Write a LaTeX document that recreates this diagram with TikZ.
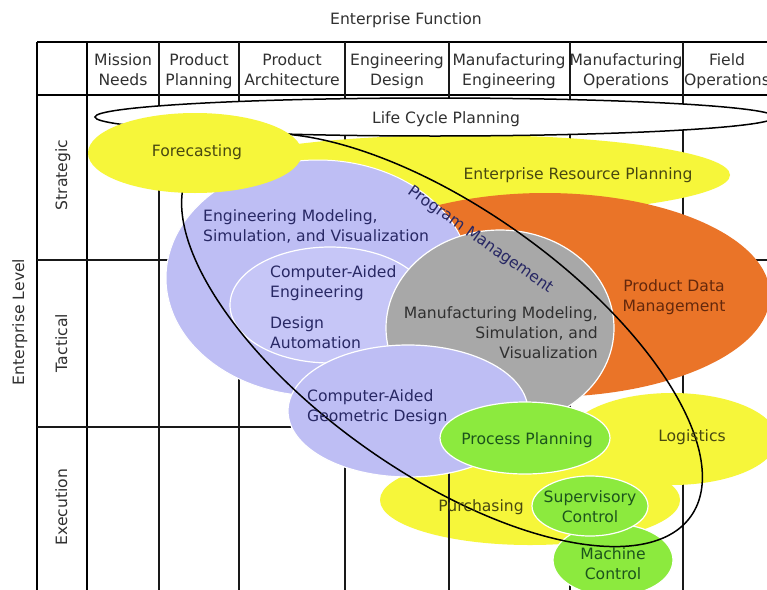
\documentclass[tikz,border=0pt]{standalone}
\usepackage{fontspec}
\setmainfont{DejaVu Sans}
\definecolor{yel}{RGB}{246,246,58}
\definecolor{peri}{RGB}{190,190,244}
\definecolor{peril}{RGB}{198,198,247}
\definecolor{graybub}{RGB}{168,168,168}
\definecolor{orng}{RGB}{234,116,40}
\definecolor{grn}{RGB}{140,234,62}
\definecolor{txtdark}{RGB}{48,48,48}
\definecolor{txtolive}{RGB}{72,72,16}
\definecolor{txtnavy}{RGB}{40,40,100}
\definecolor{txtbrown}{RGB}{100,40,12}
\definecolor{txtgreen}{RGB}{28,84,28}
\begin{document}
\begin{tikzpicture}[x=1pt,y=-1pt,
  every node/.style={font=\fontsize{15.6}{20}\selectfont, inner sep=0pt,
    text height=11pt, text depth=3pt, align=center, text=txtdark},
  twolines/.style={text height=31pt},
  threelines/.style={text height=51pt},
  gridouter/.style={line width=2.3pt, black},
  gridinner/.style={line width=1.8pt, black!90},
  bubble/.style={draw=white, line width=1.2pt},
  olive/.style={text=txtolive},
  navy/.style={text=txtnavy},
  brown/.style={text=txtbrown},
  greentext/.style={text=txtgreen}]
\clip (0,0) rectangle (767,589);
\fill[white] (0,0) rectangle (767,589);

% ---- table grid ----
\draw[gridouter] (37,42) -- (780,42);
\draw[gridouter] (37,95) -- (780,95);
\draw[gridouter] (37,42) -- (37,600);
\draw[gridouter] (87,42) -- (87,600);
\foreach \cx in {159,239,345,449,570,683}
  \draw[gridinner] (\cx,42) -- (\cx,600);
\draw[gridinner] (37,260) -- (780,260);
\draw[gridinner] (37,427) -- (780,427);

% ---- areas ----
\fill[yel] (465,175) ellipse [x radius=265, y radius=40];
\filldraw[fill=white, draw=black, line width=1.5pt] (435,117) ellipse [x radius=340, y radius=19];
\fill[orng] (545,295) ellipse [x radius=225, y radius=102];
\filldraw[fill=peri, draw=white, line width=1pt] (318,278) ellipse [x radius=152, y radius=118];
\filldraw[bubble, fill=peril] (330,305) ellipse [x radius=100, y radius=58];
\filldraw[bubble, fill=graybub] (500,328) ellipse [x radius=114, y radius=98];
\fill[yel] (530,500) ellipse [x radius=150, y radius=45];
\draw[gridinner] (449,470) -- (449,600);
\fill[yel] (672,439) ellipse [x radius=105, y radius=46];
\filldraw[bubble, fill=peri] (408,411) ellipse [x radius=120, y radius=66];
\filldraw[bubble, fill=grn] (525,438) ellipse [x radius=85, y radius=36];
\filldraw[bubble, fill=grn] (613,560) ellipse [x radius=60, y radius=36];
\filldraw[bubble, fill=grn] (590,506) ellipse [x radius=58, y radius=30];

% program management outline
\draw[black, line width=1.5pt, rotate around={-35.3:(442,340)}]
  (442,340) ellipse [x radius=305, y radius=132];

\fill[yel] (195,153) ellipse [x radius=107, y radius=40];

% ---- headings ----
\node (fn) at (406,20) {Enterprise Function};
\node[rotate=90] (lvl) at (20,322) {Enterprise Level};
\node[twolines] (h1) at (123,71) {Mission\\Needs};
\node[twolines] (h2) at (199,71) {Product\\Planning};
\node[twolines] (h3) at (292,71) {Product\\Architecture};
\node[twolines] (h4) at (397,71) {Engineering\\Design};
\node[twolines] (h5) at (509,71) {Manufacturing\\Engineering};
\node[twolines] (h6) at (626,71) {Manufacturing\\Operations};
\node[twolines] (h7) at (727,71) {Field\\Operations};
\node[rotate=90] (r1) at (63,175) {Strategic};
\node[rotate=90] (r2) at (63,343) {Tactical};
\node[rotate=90] (r3) at (63,507) {Execution};

% ---- area labels ----
\node (lcp) at (446,119) {Life Cycle Planning};
\node[olive] (fc) at (197,152) {Forecasting};
\node[olive] (erp) at (578,175) {Enterprise Resource Planning};
\node[navy, twolines, anchor=west, align=left] (ems) at (203,227) {Engineering Modeling,\\Simulation, and Visualization};
\node[navy, rotate=-35.2] (pm) at (480,240) {Program Management};
\node[navy, twolines, anchor=west, align=left] (cae) at (270,283) {Computer-Aided\\Engineering};
\node[navy, twolines, anchor=west, align=left] (da) at (270,334) {Design\\Automation};
\node[threelines, anchor=east, align=right] (mms) at (598,334) {Manufacturing Modeling,\\Simulation, and\\Visualization};
\node[brown, twolines] (pdm) at (674,297) {Product Data\\Management};
\node[navy, twolines, anchor=west, align=left] (cagd) at (307,407) {Computer-Aided\\Geometric Design};
\node[greentext] (pp) at (527,440) {Process Planning};
\node[olive] (lg) at (692,437) {Logistics};
\node[olive] (pur) at (481,507) {Purchasing};
\node[greentext, twolines] (sc) at (590,508) {Supervisory\\Control};
\node[greentext, twolines] (mc) at (613,565) {Machine\\Control};
\end{tikzpicture}
\end{document}
